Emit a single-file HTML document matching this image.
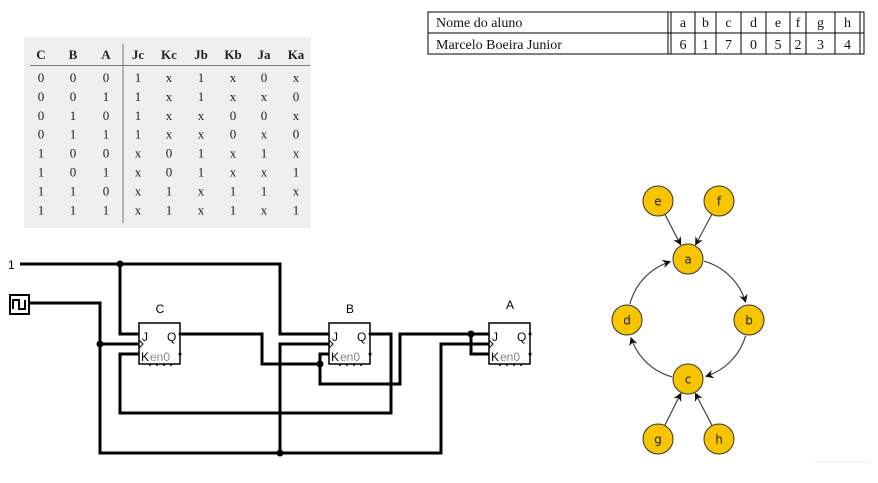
<!DOCTYPE html>
<html><head><meta charset="utf-8"><style>
html,body{margin:0;padding:0;background:#fff;}
svg{display:block;}
.t{font-family:"Liberation Serif",serif;font-size:14px;fill:#111;}
.tt{font-family:"Liberation Serif",serif;font-size:13px;fill:#222;text-anchor:middle;}
.w{stroke:#000;stroke-width:3;fill:none;}
.g{font-family:"Liberation Sans",sans-serif;font-size:12px;}
</style></head><body>
<svg id="s" width="878" height="483" viewBox="0 0 878 483">
<g>
<rect x="428" y="12" width="436" height="42" fill="#fff" stroke="#000" stroke-width="1"/>
<line x1="428" y1="33" x2="864" y2="33" stroke="#000"/>
<line x1="668" y1="12" x2="668" y2="54" stroke="#000"/><line x1="671" y1="12" x2="671" y2="54" stroke="#000"/>
<line x1="860" y1="12" x2="860" y2="54" stroke="#000"/>
<g id="tt"></g>
<text class="t" x="436" y="27">Nome do aluno</text>
<text class="t" x="436" y="49">Marcelo Boeira Junior</text>
</g>
<g>
<rect x="24" y="37" width="287" height="191" fill="#efefef"/>
<line x1="30" y1="65.5" x2="310" y2="65.5" stroke="#777" stroke-width="1"/>
<line x1="123" y1="44" x2="123" y2="223" stroke="#777" stroke-width="1"/>
<g id="truth"></g>
</g>
<g>
<text x="8" y="269" font-family="Liberation Sans,sans-serif" font-size="12">1</text>
<polyline class="w" points="20,264 280,264 280,334 329,334"/>
<polyline class="w" points="120,264 120,334 139,334"/>
<rect x="10" y="295" width="19" height="19" fill="#fff" stroke="#000" stroke-width="2"/>
<polyline points="13,309 13,300 19,300 19,309 25,309 25,300" fill="none" stroke="#000" stroke-width="2"/>
<polyline class="w" points="29,303 100,303 100,453 441,453 441,344 489,344"/>
<line class="w" x1="100" y1="344" x2="139" y2="344"/>
<polyline class="w" points="280,453 280,344 329,344"/>
<polyline class="w" points="180,334 262,334 262,364 320,364"/>
<polyline class="w" points="329,354 320,354 320,384 400,384 400,334 489,334"/>
<polyline class="w" points="471,334 471,354 489,354"/>
<polyline class="w" points="371,334 391,334 391,413 120,413 120,354 139,354"/>
<g id="ffs"></g>
<g fill="#000">
<circle cx="120" cy="264" r="3.5"/><circle cx="100" cy="344" r="3.5"/><circle cx="280" cy="453" r="3.5"/>
<circle cx="320" cy="364" r="3.5"/><circle cx="471" cy="334" r="3.5"/>
</g>
</g>
<defs><marker id="ar" viewBox="0 0 10 10" refX="9" refY="5" markerWidth="7" markerHeight="7" orient="auto"><path d="M0,0 L10,5 L0,10 L3,5z" fill="#111"/></marker></defs>
<g id="graph"></g>
<line x1="815" y1="462" x2="870" y2="462" stroke="#eee" stroke-width="1"/>
</svg>
<script>
const NS="http://www.w3.org/2000/svg";
function mk(tag,at,parent,txt){const e=document.createElementNS(NS,tag);for(const k in at)e.setAttribute(k,at[k]);if(txt!==undefined)e.textContent=txt;parent.appendChild(e);return e;}
const letters=["a","b","c","d","e","f","g","h"];
const values=["6","1","7","0","5","2","3","4"];
const colEdges=[671,695,716,741,766,790,806,835,860];
const tt=document.getElementById('tt');
for(let i=0;i<letters.length;i++){
  if(i>0){mk('line',{x1:colEdges[i],y1:12,x2:colEdges[i],y2:54,stroke:'#000'},tt);}
  const cx=(colEdges[i]+colEdges[i+1])/2;
  const a=mk('text',{x:cx,y:27,'text-anchor':'middle',class:'t'},tt,letters[i]);
  
  
  const b=mk('text',{x:cx,y:49,'text-anchor':'middle',class:'t'},tt,values[i]);
  
  
}
const headers=["C","B","A","Jc","Kc","Jb","Kb","Ja","Ka"];
const rows=["000 1x1x0x","001 1x1xx0","010 1xx00x","011 1xx0x0","100 x01x1x","101 x01xx1","110 x1x11x","111 x1x1x1"];
const colX=[41,73,106,138,169,201,233,264,296];
const tr=document.getElementById('truth');
headers.forEach((h,i)=>{const e=mk('text',{x:colX[i],y:59,class:'tt','font-weight':'bold'},tr,h);
  
  });
rows.forEach((r,ri)=>{const cells=r.replace(' ','').split('');
  cells.forEach((c,ci)=>{const e=mk('text',{x:colX[ci],y:82+ri*18.9,class:'tt'},tr,c);
    
    });});
const ffNames=["C","B","A"];
const ffX=[139,329,489];
const ffs=document.getElementById('ffs');
ffNames.forEach((n,i)=>{const x=ffX[i],g=mk('g',{},ffs);
  
  
  mk('rect',{x:x,y:323,width:41,height:41,fill:'#fff',stroke:'#000','stroke-width':1.5},g);
  mk('text',{x:x+21,y:i==2?309:313,'text-anchor':'middle',class:'g'},g,n);
  mk('text',{x:x+3,y:341,class:'g'},g,'J');
  mk('text',{x:x+28,y:341,class:'g'},g,'Q');
  mk('text',{x:x+2,y:361,class:'g'},g,'K');
  mk('text',{x:x+11,y:361,class:'g',fill:'#888'},g,'en0');
  mk('polyline',{points:`${x},340 ${x+4},344 ${x},348`,fill:'none',stroke:'#000','stroke-width':1},g);
  mk('circle',{cx:x+41,cy:334,r:1.5,fill:'#000'},g);mk('circle',{cx:x+41,cy:354,r:1.5,fill:'#000'},g);
  for(let k=0;k<4;k++)mk('line',{x1:x+10+k*7,y1:365,x2:x+12+k*7,y2:365,stroke:'#000','stroke-width':1.5},g);
});
const nodes=["a","b","c","d","e","f","g","h"];
const nodeX=[688,749,688,627,658,719,658,719];
const nodeY=[259,320,379,320,201,201,439,439];
const straightEdges=[["e","a"],["f","a"],["g","c"],["h","c"]];
const arcEdges=[["a","b"],["b","c"],["c","d"],["d","a"]];
const gr=document.getElementById('graph');
const R=15,CX=688,CY=319,CR=60;
const idx=n=>nodes.indexOf(n);
straightEdges.forEach(([s,t])=>{const x1=nodeX[idx(s)],y1=nodeY[idx(s)],x2=nodeX[idx(t)],y2=nodeY[idx(t)];
  const d=Math.hypot(x2-x1,y2-y1),ux=(x2-x1)/d,uy=(y2-y1)/d;
  const l=mk('line',{x1:x1+ux*R,y1:y1+uy*R,x2:x2-ux*(R+1),y2:y2-uy*(R+1),stroke:'#444','stroke-width':1.2,'marker-end':'url(#ar)'},gr);
  
  });
arcEdges.forEach(([s,t])=>{const a1=Math.atan2(nodeY[idx(s)]-CY,nodeX[idx(s)]-CX),a2=Math.atan2(nodeY[idx(t)]-CY,nodeX[idx(t)]-CX);
  const off=R/CR+0.02;let b1=a1+off,b2=a2-off-0.03;if(b2<b1)b2+=2*Math.PI;
  const p=mk('path',{d:`M${CX+CR*Math.cos(b1)},${CY+CR*Math.sin(b1)} A${CR},${CR} 0 0 1 ${CX+CR*Math.cos(b2)},${CY+CR*Math.sin(b2)}`,fill:'none',stroke:'#444','stroke-width':1.2,'marker-end':'url(#ar)'},gr);
  
  });
nodes.forEach((n,i)=>{const g=mk('g',{},gr);
  
  
  mk('circle',{cx:nodeX[i],cy:nodeY[i],r:R,fill:'#f7c500',stroke:'#333','stroke-width':1},g);
  mk('text',{x:nodeX[i],y:nodeY[i]+4.5,'text-anchor':'middle','font-family':'DejaVu Sans,sans-serif','font-size':12,fill:'#222'},g,n);});
</script>
</body></html>
